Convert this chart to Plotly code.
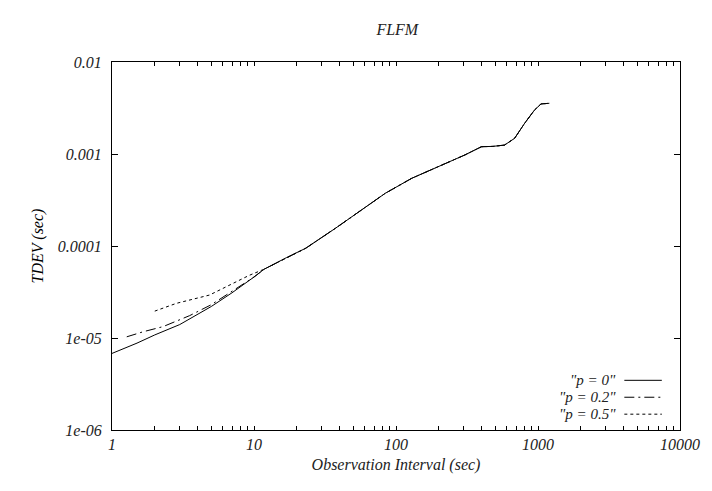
import plotly.graph_objects as go

# ---- data ----
tail_x = [11.8, 17, 23.1, 37.5, 60.8, 84, 129, 188, 305, 378, 400, 480, 581, 684, 804, 944, 1050, 1202]
tail_y = [5.6e-5, 7.5e-5, 9.44e-5, 1.56e-4, 2.67e-4, 3.74e-4, 5.44e-4, 6.98e-4, 9.75e-4, 1.15e-3,
          1.2e-3, 1.21e-3, 1.25e-3, 1.48e-3, 2.15e-3, 3.0e-3, 3.5e-3, 3.56e-3]

p0_head_x = [1, 1.5, 2, 3, 5, 7, 10]
p0_head_y = [6.8e-6, 8.8e-6, 1.08e-5, 1.4e-5, 2.2e-5, 3.1e-5, 4.6e-5]

p02_head_x = [1.27, 1.66, 2.29, 3.52, 5, 7, 10]
p02_head_y = [1.03e-5, 1.17e-5, 1.33e-5, 1.75e-5, 2.3e-5, 3.2e-5, 4.6e-5]

p05_head_x = [2.0, 2.84, 4.86, 7.07, 9.26]
p05_head_y = [1.96e-5, 2.38e-5, 2.93e-5, 3.93e-5, 4.8e-5]

series_names = ['"p = 0"', '"p = 0.2"', '"p = 0.5"']
series_dash = ["solid", "10px,4px,2px,4px", "3px,3px"]

x_decades = [1, 10, 100, 1000, 10000]
x_decade_labels = ["1", "10", "100", "1000", "10000"]
# tick positions: every 1..9 multiple per decade; labels only at decades
x_tickvals = [m * d for d in [1, 10, 100, 1000] for m in range(1, 10)] + [10000]
x_ticktext = [x_decade_labels[x_decades.index(v)] if v in x_decades else "" for v in x_tickvals]

y_ticks = [1e-6, 1e-5, 1e-4, 1e-3, 1e-2]
y_ticktext = ["1e-06", "1e-05", "0.0001", "0.001", "0.01"]

series_x = [p0_head_x + tail_x, p02_head_x + tail_x, p05_head_x + tail_x]
series_y = [p0_head_y + tail_y, p02_head_y + tail_y, p05_head_y + tail_y]

FONT = "Liberation Serif"
TXT = "#222222"

fig = go.Figure()
for name, dash, xs, ys in zip(series_names, series_dash, series_x, series_y):
    fig.add_trace(go.Scatter(x=xs, y=ys, mode="lines", name=name,
                             line=dict(color="black", width=1, dash=dash),
                             showlegend=False))

# manual gnuplot-style legend (text right-aligned, sample on the right)
leg_rows = [0.135, 0.089, 0.043]
for name, dash, yy in zip(series_names, series_dash, leg_rows):
    fig.add_annotation(x=0.889, y=yy, xref="paper", yref="paper", text=name,
                       showarrow=False, xanchor="right", yanchor="middle", borderpad=0,
                       font=dict(family=FONT, size=15, color=TXT, style="italic"))
    fig.add_shape(type="line", xref="paper", yref="paper", x0=0.902, x1=0.968,
                  y0=yy, y1=yy, line=dict(color="black", width=1, dash=dash))

axis_common = dict(showgrid=False, zeroline=False, showline=True, linecolor="black",
                   linewidth=1, mirror="allticks", ticks="inside",
                   tickwidth=1, tickcolor="black",
                   tickfont=dict(family=FONT, size=16, color=TXT, style="italic"))

fig.update_layout(
    xaxis=dict(type="log", range=[0, 4], tickmode="array", tickvals=x_tickvals,
               ticktext=x_ticktext, ticklen=4,
               title=dict(text="Observation Interval (sec)", standoff=6,
                          font=dict(family=FONT, size=16, color=TXT, style="italic")),
               **axis_common),
    yaxis=dict(type="log", range=[-6, -2], tickmode="array", tickvals=y_ticks, ticktext=y_ticktext,
               ticklen=6,
               title=dict(text="TDEV (sec)", standoff=10,
                          font=dict(family=FONT, size=16, color="black", style="italic")),
               ticklabelstandoff=6,
               **axis_common),
    width=712, height=491,
    margin=dict(l=112, r=29, t=62, b=61),
    paper_bgcolor="white", plot_bgcolor="white",
    title=dict(text="FLFM", x=0.558, xanchor="center", y=0.94, yanchor="middle",
               font=dict(family=FONT, size=16, color=TXT, style="italic")),
)

fig.write_html("out.html")
